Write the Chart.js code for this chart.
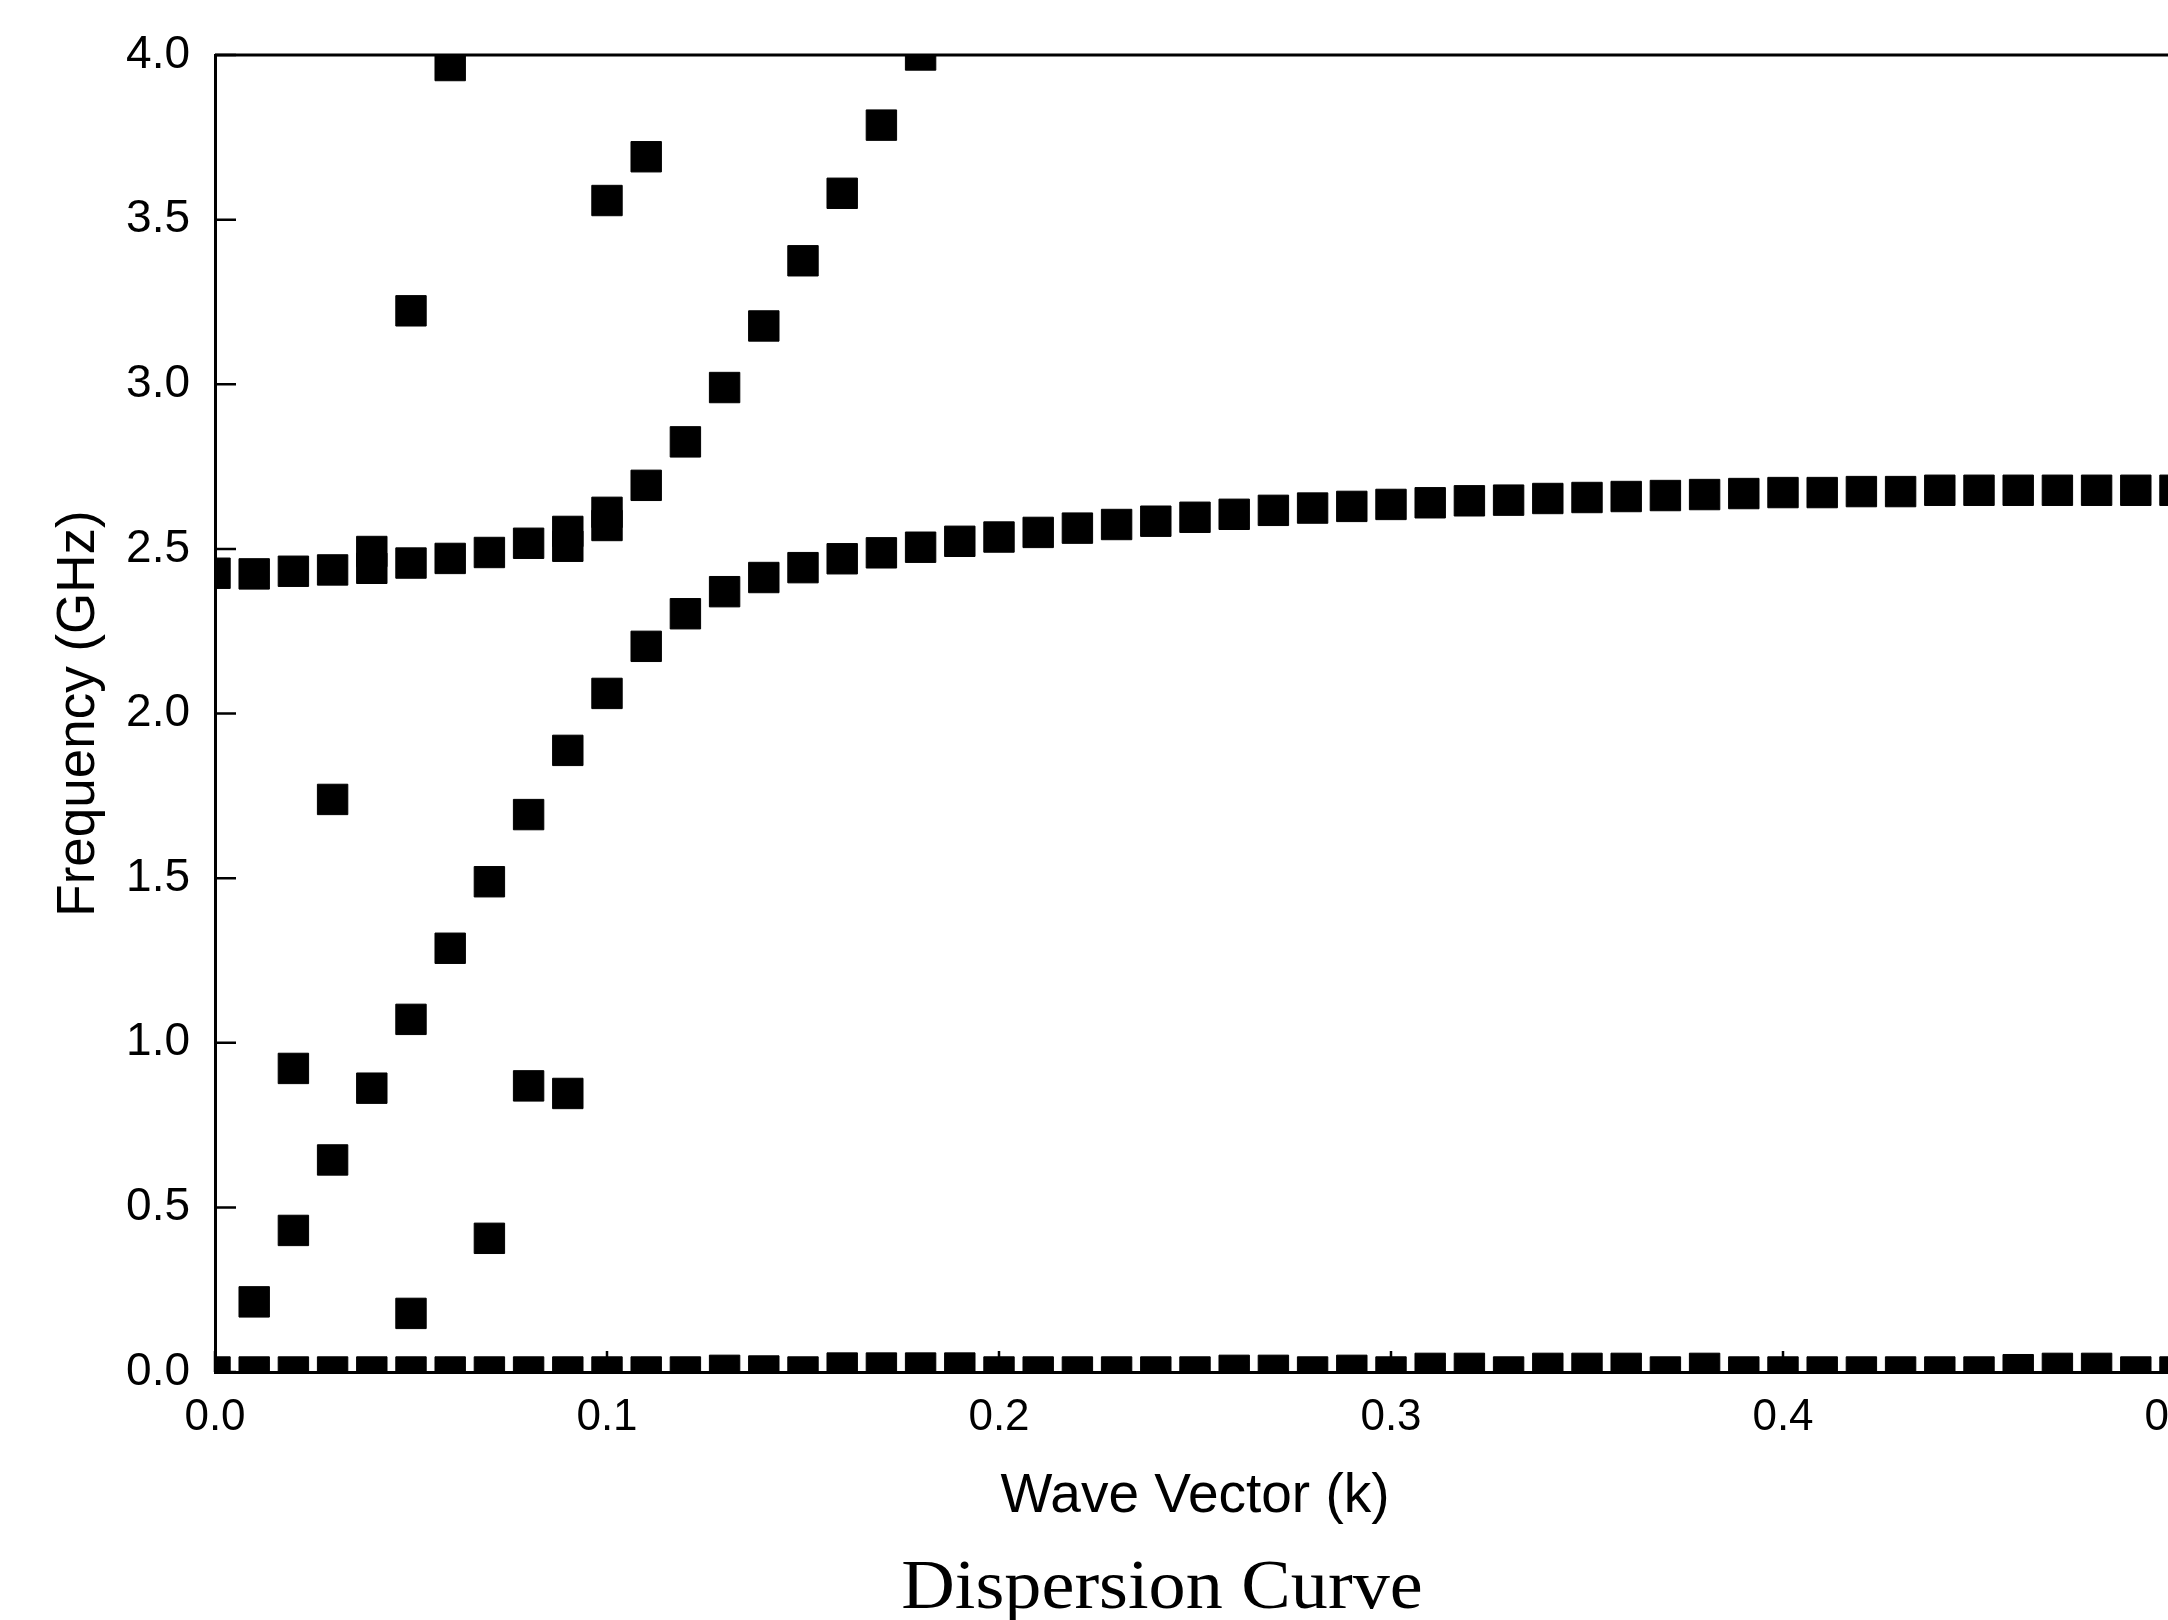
<!DOCTYPE html>
<html lang="en">
<head>
    <meta charset="UTF-8">
    <title>Dispersion Curve</title>
    <script src="https://cdn.jsdelivr.net/npm/chart.js"></script>
    <style>
        html, body { margin: 0; padding: 0; background: #fff; overflow: hidden; }
        /* the original figure is cropped on the right, so the chart is wider than the window */
        #wrap { position: relative; width: 2318px; height: 1620px; }
        #caption {
            position: absolute;
            left: 0;
            top: 1550px;
            width: 2324px;
            text-align: center;
            font-family: "Liberation Serif", serif;
            font-size: 70px;
            line-height: 1;
            color: #000;
            transform: scaleX(1.06);
            transform-origin: 1162px 0;
            white-space: nowrap;
        }
    </style>
</head>
<body>
    <div id="wrap">
        <canvas id="dispersionChart"></canvas>
        <div id="caption">Dispersion Curve</div>
    </div>

    <script>
        // wave vector grid (k)
        const kGrid = [0.00, 0.01, 0.02, 0.03, 0.04, 0.05, 0.06, 0.07, 0.08, 0.09,
                       0.10, 0.11, 0.12, 0.13, 0.14, 0.15, 0.16, 0.17, 0.18, 0.19,
                       0.20, 0.21, 0.22, 0.23, 0.24, 0.25, 0.26, 0.27, 0.28, 0.29,
                       0.30, 0.31, 0.32, 0.33, 0.34, 0.35, 0.36, 0.37, 0.38, 0.39,
                       0.40, 0.41, 0.42, 0.43, 0.44, 0.45, 0.46, 0.47, 0.48, 0.49, 0.50];

        // frequency (GHz) on each branch, aligned with kGrid (null = no point)
        const acousticBranch = [0, 0, 0, 0, 0, 0, 0, 0, 0, 0,
                                0, 0, 0, 0.005, 0.003, 0, 0.012, 0.012, 0.012, 0.012,
                                0, 0, 0, 0, 0, 0, 0.005, 0.005, 0, 0.005,
                                0, 0.011, 0.011, 0, 0.011, 0.011, 0.011, 0, 0.011, 0,
                                0, 0, 0, 0, 0, 0, 0.007, 0.011, 0.011, 0, 0];

        const lowerBranch = [null, 0.213, 0.430, 0.644, 0.862, 1.071, 1.287, 1.489, 1.693, 1.888,
                             2.061, 2.204, 2.303, 2.370, 2.413, 2.443, 2.470, 2.488, 2.505, 2.523,
                             2.536, 2.550, 2.563, 2.574, 2.584, 2.596, 2.605, 2.617, 2.624, 2.629,
                             2.635, 2.640, 2.646, 2.648, 2.653, 2.656, 2.659, 2.662, 2.665, 2.668,
                             2.671, 2.671, 2.674, 2.674, 2.678, 2.678, 2.678, 2.678, 2.678, 2.678, 2.678];

        const upperBranch = [2.426, 2.424, 2.432, 2.436, 2.441, 2.457, 2.471, 2.489, 2.517, 2.553,
                             2.611, 2.693, 2.825, 2.990, 3.177, 3.375, 3.580, 3.787, 4.000, null,
                             null, null, null, null, null, null, null, null, null, null,
                             null, null, null, null, null, null, null, null, null, null,
                             null, null, null, null, null, null, null, null, null, null, null];

        // stray solver points
        const extraK    = [0.02, 0.03, 0.04, 0.05, 0.05, 0.06, 0.07, 0.08, 0.09, 0.09, 0.10, 0.10, 0.11];
        const extraFreq = [0.922, 1.739, 2.492, 0.178, 3.223, 3.968, 0.406, 0.869, 0.846, 2.508, 2.571, 3.558, 3.691];

        // axis ticks
        const kTicks = [0.0, 0.1, 0.2, 0.3, 0.4, 0.5];
        const freqTicks = [0.0, 0.5, 1.0, 1.5, 2.0, 2.5, 3.0, 3.5, 4.0];

        function toPoints(ks, fs) {
            const pts = [];
            ks.forEach((k, i) => {
                if (fs[i] !== null) pts.push({ x: k, y: fs[i] });
            });
            return pts;
        }

        const markerStyle = {
            showLine: false,
            pointStyle: 'rect',
            pointRadius: 21.5,
            pointHoverRadius: 21.5,
            pointBorderWidth: 1,
            backgroundColor: '#000',
            borderColor: '#000',
            clip: 0
        };

        // inward tick marks + top/right frame
        const frameAndTicks = {
            id: 'frameAndTicks',
            afterDatasetsDraw(chart) {
                const { ctx, chartArea: a, scales: { x, y } } = chart;
                ctx.save();
                ctx.strokeStyle = '#000';
                ctx.lineWidth = 3;
                ctx.beginPath();
                ctx.moveTo(a.left, a.top);
                ctx.lineTo(a.right, a.top);
                ctx.lineTo(a.right, a.bottom);
                ctx.stroke();

                ctx.lineWidth = 2.5;
                ctx.beginPath();
                x.ticks.forEach(t => {
                    const px = x.getPixelForValue(t.value);
                    ctx.moveTo(px, a.bottom);
                    ctx.lineTo(px, a.bottom - 21);
                });
                y.ticks.forEach(t => {
                    const py = y.getPixelForValue(t.value);
                    ctx.moveTo(a.left, py);
                    ctx.lineTo(a.left + 21, py);
                });
                ctx.stroke();
                ctx.restore();
            }
        };

        new Chart(document.getElementById('dispersionChart'), {
            type: 'scatter',
            data: {
                datasets: [
                    { label: 'Acoustic', data: toPoints(kGrid, acousticBranch), ...markerStyle },
                    { label: 'Lower', data: toPoints(kGrid, lowerBranch), ...markerStyle },
                    { label: 'Upper', data: toPoints(kGrid, upperBranch), ...markerStyle },
                    { label: 'Extra', data: toPoints(extraK, extraFreq), ...markerStyle }
                ]
            },
            options: {
                responsive: true,
                maintainAspectRatio: false,
                animation: false,
                events: [],
                layout: { padding: { left: 0, top: 55, right: 143, bottom: 65 } },
                plugins: {
                    legend: { display: false },
                    tooltip: { enabled: false }
                },
                scales: {
                    x: {
                        type: 'linear',
                        min: 0,
                        max: 0.5,
                        afterBuildTicks: s => { s.ticks = kTicks.map(v => ({ value: v })); },
                        afterFit: s => { s.height = 183; },
                        grid: { display: true, drawOnChartArea: false, drawTicks: false },
                        border: { display: true, color: '#000', width: 3 },
                        ticks: {
                            color: '#000',
                            font: { family: 'Liberation Sans', size: 44 },
                            padding: 19,
                            maxRotation: 0,
                            callback: v => Number(v).toFixed(1)
                        },
                        title: {
                            display: true,
                            text: 'Wave Vector (k)',
                            color: '#000',
                            font: { family: 'Liberation Sans', size: 55 },
                            padding: { top: 0, bottom: 25 }
                        }
                    },
                    y: {
                        type: 'linear',
                        min: 0,
                        max: 4,
                        afterBuildTicks: s => { s.ticks = freqTicks.map(v => ({ value: v })); },
                        afterFit: s => { s.width = 215; },
                        grid: { display: true, drawOnChartArea: false, drawTicks: false },
                        border: { display: true, color: '#000', width: 3 },
                        ticks: {
                            color: '#000',
                            font: { family: 'Liberation Sans', size: 46 },
                            padding: 25,
                            callback: v => Number(v).toFixed(1)
                        },
                        title: {
                            display: true,
                            text: 'Frequency (GHz)',
                            color: '#000',
                            font: { family: 'Liberation Sans', size: 53 },
                            padding: { top: 48, bottom: 0 }
                        }
                    }
                }
            },
            plugins: [frameAndTicks]
        });
    </script>
</body>
</html>
